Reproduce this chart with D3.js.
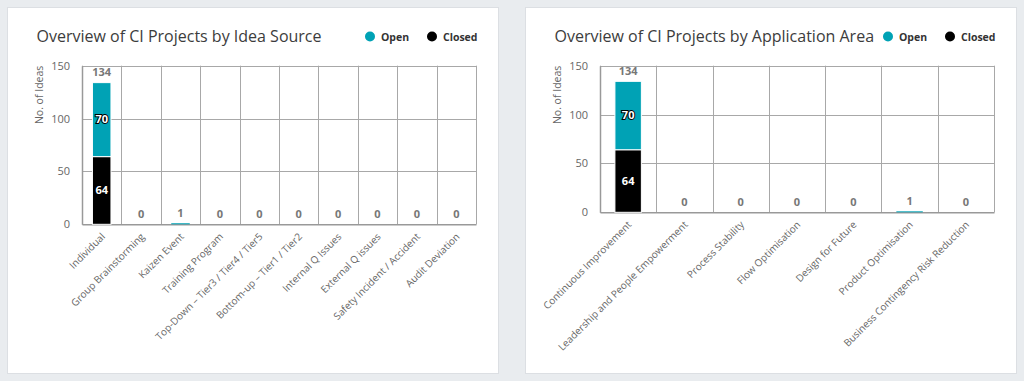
<!DOCTYPE html>
<html>
<head>
<meta charset="utf-8">
<script src="https://cdn.jsdelivr.net/npm/d3@7"></script>
<style>
  html, body { margin: 0; padding: 0; background: #e9ecef; }
  svg { display: block; font-family: "Open Sans", "Noto Sans", sans-serif; }
</style>
</head>
<body>
<svg id="chart" width="1024" height="381"></svg>
<script>
// ---- Data ----
const sourceTitle = "Overview of CI Projects by Idea Source";
const sourceCategories = ["Individual", "Group Brainstorming", "Kaizen Event", "Training Program",
  "Top-Down – Tier3 / Tier4 / Tier5", "Bottom-up – Tier1 / Tier2", "Internal Q Issues",
  "External Q issues", "Safety Incident / Accident", "Audit Deviation"];
const sourceOpen   = [70, 0, 1, 0, 0, 0, 0, 0, 0, 0];
const sourceClosed = [64, 0, 0, 0, 0, 0, 0, 0, 0, 0];

const areaTitle = "Overview of CI Projects by Application Area";
const areaCategories = ["Continuous Improvement", "Leadership and People Empowerment", "Process Stability",
  "Flow Optimisation", "Design for Future", "Product Optimisation", "Business Contingency Risk Reduction"];
const areaOpen   = [70, 0, 0, 0, 0, 1, 0];
const areaClosed = [64, 0, 0, 0, 0, 0, 0];

const yTicks = [0, 50, 100, 150];
const seriesNames = ["Open", "Closed"];
const seriesColors = ["#00a2b5", "#000000"];
const yAxisTitle = "No. of Ideas";

// ---- Drawing ----
const svg = d3.select("#chart");

function drawPanel(opt) {
  const g = svg.append("g");
  // panel
  g.append("rect").attr("x", opt.panel[0] + 0.5).attr("y", opt.panel[1] + 0.5)
    .attr("width", opt.panel[2] - opt.panel[0]).attr("height", opt.panel[3] - opt.panel[1])
    .attr("fill", "#fff").attr("stroke", "#dcdfe3").attr("stroke-width", 1);

  const [pl, pt, pr, pb] = opt.plot;
  const x = d3.scaleBand().domain(opt.categories).range([pl, pr]).paddingInner(0).paddingOuter(0);
  const y = d3.scaleLinear().domain([0, 150]).range([pb, pt]);

  // title
  g.append("text").attr("x", opt.panel[0] + 29.5).attr("y", 42)
    .attr("font-size", 16).attr("fill", "#3c3c3c").text(opt.title);

  // legend
  seriesNames.forEach((name, i) => {
    const cx = pr - (i === 0 ? 106 : 44);
    g.append("circle").attr("cx", cx).attr("cy", 36.5).attr("r", 5).attr("fill", seriesColors[i]);
    g.append("text").attr("x", cx + 11).attr("y", 40.5).attr("font-size", 10.5)
      .attr("font-weight", "bold").attr("fill", "#333").text(name);
  });

  // horizontal grid
  g.append("g").selectAll("line").data(yTicks.filter(d => d > 0)).join("line")
    .attr("x1", pl).attr("x2", pr).attr("y1", d => Math.round(y(d)) + 0.5).attr("y2", d => Math.round(y(d)) + 0.5)
    .attr("stroke", "#a8a8a8").attr("stroke-width", 1);
  // vertical grid (category boundaries)
  const bounds = opt.categories.map(c => x(c)).concat([pr]);
  g.append("g").selectAll("line").data(bounds).join("line")
    .attr("x1", d => Math.round(d) + 0.5).attr("x2", d => Math.round(d) + 0.5)
    .attr("y1", pt).attr("y2", pb)
    .attr("stroke", "#a8a8a8").attr("stroke-width", 1);

  // y axis
  const yAxis = d3.axisLeft(y).tickValues(yTicks).tickSize(0).tickPadding(12);
  const ya = g.append("g").attr("transform", `translate(${pl},0)`).call(yAxis);
  ya.select(".domain").attr("stroke", "#999").attr("stroke-width", 1.5);
  ya.selectAll("text").attr("font-size", 11).attr("fill", "#666")
    .attr("font-family", '"Open Sans", sans-serif');

  // y axis title
  g.append("text").attr("transform", `translate(${pl - 43},${pt}) rotate(-90)`)
    .attr("text-anchor", "end").attr("dy", "0.35em")
    .attr("font-size", 10.5).attr("fill", "#666").text(yAxisTitle);

  // x axis
  const xAxis = d3.axisBottom(x).tickSize(0).tickPadding(0);
  const xa = g.append("g").attr("transform", `translate(0,${pb})`).call(xAxis);
  xa.select(".domain").attr("stroke", "#999").attr("stroke-width", 1.5);
  xa.selectAll("text").attr("font-size", 10).attr("fill", "#666")
    .attr("font-family", '"Open Sans", sans-serif')
    .attr("text-anchor", "end").attr("dy", null).attr("y", null)
    .attr("transform", "translate(4,13) rotate(-45)");

  // stacked bars
  const stack = d3.stack().keys([1, 0]).value((d, k) => d[k]);
  const rows = opt.categories.map((c, i) => ({ cat: c, 0: opt.open[i], 1: opt.closed[i] }));
  const layers = stack(rows);
  const bw = x.bandwidth() * 0.47;
  layers.forEach(layer => {
    const k = layer.key;
    g.append("g").selectAll("rect").data(layer).join("rect")
      .attr("x", d => x(d.data.cat) + (x.bandwidth() - bw) / 2)
      .attr("width", bw)
      .attr("y", d => y(d[1]))
      .attr("height", d => Math.max(0, y(d[0]) - y(d[1])))
      .attr("fill", seriesColors[k])
      .attr("stroke", "#fff").attr("stroke-width", d => (d[1] - d[0]) >= 5 ? 1 : 0);
    // inside labels
    g.append("g").selectAll("text").data(layer.filter(d => d[1] - d[0] >= 10)).join("text")
      .attr("x", d => x(d.data.cat) + x.bandwidth() / 2)
      .attr("y", d => y((d[0] + d[1]) / 2))
      .attr("dy", "0.35em").attr("text-anchor", "middle")
      .attr("font-size", 11).attr("font-weight", "bold")
      .attr("fill", "#fff").attr("stroke", "#000").attr("stroke-width", k === 0 ? 2 : 0)
      .attr("paint-order", "stroke")
      .text(d => d[1] - d[0]);
  });
  // totals
  g.append("g").selectAll("text").data(rows).join("text")
    .attr("x", d => x(d.cat) + x.bandwidth() / 2)
    .attr("y", d => y(d[0] + d[1]) - 10)
    .attr("dy", "0.35em").attr("text-anchor", "middle")
    .attr("font-size", 11).attr("font-weight", "bold").attr("fill", "#777")
    .text(d => d[0] + d[1]);
}

drawPanel({
  title: sourceTitle, categories: sourceCategories, open: sourceOpen, closed: sourceClosed,
  panel: [7, 7, 498, 373], plot: [82, 65.7, 476, 224.3]
});
drawPanel({
  title: areaTitle, categories: areaCategories, open: areaOpen, closed: areaClosed,
  panel: [525, 7, 1016, 373], plot: [600, 65.7, 994, 212.3]
});
</script>
</body>
</html>
